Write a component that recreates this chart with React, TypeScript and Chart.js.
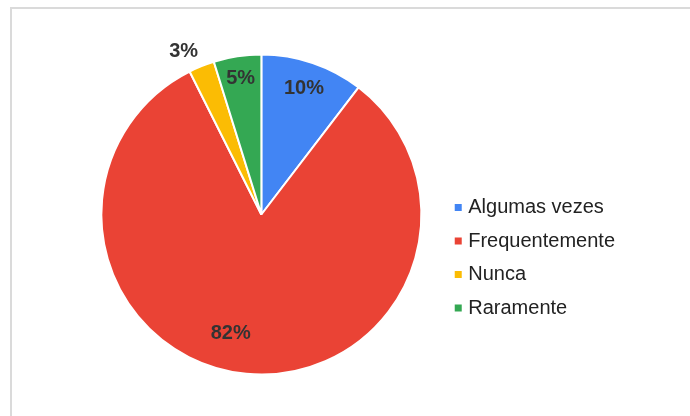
import React, { useEffect, useRef } from "react";
import { Chart, registerables } from "chart.js";

Chart.register(...registerables);

const categories = ["Algumas vezes", "Frequentemente", "Nunca", "Raramente"];
const shares = [10.4, 82.2, 2.6, 4.8];
const sliceColors = ["#4285F4", "#EA4335", "#FBBC04", "#34A853"];

const FONT = '"Liberation Sans", Arial, sans-serif';

const pctLabels = {
  id: "pctLabels",
  afterDatasetsDraw(chart: any, _args: any, opts: any) {
    const ctx = chart.ctx;
    const meta = chart.getDatasetMeta(0);
    const data: number[] = chart.data.datasets[0].data;
    const total = data.reduce((a, b) => a + b, 0);
    ctx.save();
    ctx.font = `bold 20px ${FONT}`;
    ctx.fillStyle = "#333333";
    ctx.textAlign = "center";
    ctx.textBaseline = "middle";
    meta.data.forEach((arc: any, i: number) => {
      const { x, y, startAngle, endAngle, outerRadius } = arc.getProps(
        ["x", "y", "startAngle", "endAngle", "outerRadius"],
        true
      );
      const p = opts.placement[i];
      const a = (startAngle + endAngle) / 2 + (p.shift * Math.PI) / 180;
      const r = outerRadius * p.r;
      ctx.fillText(
        Math.round((data[i] / total) * 100) + "%",
        x + Math.cos(a) * r,
        y + Math.sin(a) * r
      );
    });
    ctx.restore();
  },
};

export default function App() {
  const ref = useRef<HTMLCanvasElement | null>(null);

  useEffect(() => {
    if (!ref.current) return;
    const baseGen = (Chart as any).overrides.doughnut.plugins.legend.labels
      .generateLabels;
    const chart = new Chart(ref.current, {
      type: "doughnut",
      data: {
        labels: categories,
        datasets: [
          {
            data: shares,
            backgroundColor: sliceColors,
            borderColor: "#ffffff",
            borderWidth: 2,
          },
        ],
      },
      options: {
        responsive: false,
        animation: false,
        cutout: 0,
        events: [],
        layout: {
          padding: { top: 53.5, bottom: 40.5, left: 78, right: 65 },
        },
        plugins: {
          tooltip: { enabled: false },
          legend: {
            display: true,
            position: "right",
            align: "start",
            title: {
              display: true,
              text: "",
              font: { size: 10, lineHeight: 1 },
              padding: { top: 120.5, bottom: 0 },
            },
            labels: {
              usePointStyle: true,
              pointStyle: "rect",
              boxWidth: 0.01,
              boxHeight: 7,
              padding: 13.5,
              textAlign: "left",
              color: "#222222",
              font: { family: FONT, size: 20 },
              generateLabels: (c: any) =>
                baseGen(c).map((l: any) => ({ ...l, lineWidth: 0 })),
            },
          },
          pctLabels: {
            placement: [
              { r: 0.83, shift: 0 },
              { r: 0.77, shift: 9 },
              { r: 1.13, shift: -3.5 },
              { r: 0.86, shift: 0 },
            ],
          },
        } as any,
      },
      plugins: [pctLabels],
    });
    return () => chart.destroy();
  }, []);

  return (
    <div>
      <div
        style={{
          position: "fixed",
          left: 10,
          top: 7,
          right: 0,
          bottom: 0,
          borderTop: "2px solid #dadada",
          borderLeft: "2px solid #dadada",
        }}
      />
      <canvas
        ref={ref}
        width={690}
        height={416}
        style={{ position: "fixed", left: 0, top: 0, width: 690, height: 416 }}
      />
    </div>
  );
}
